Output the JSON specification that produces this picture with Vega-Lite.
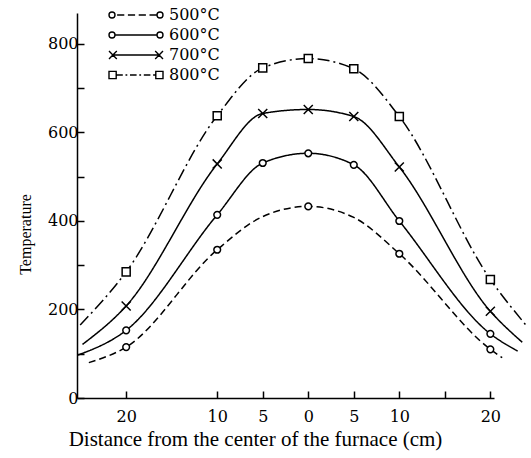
{
  "$schema": "https://vega.github.io/schema/vega-lite/v6.json",
  "autosize": {"type": "none"},
  "width": 417,
  "height": 385,
  "padding": {"left": 77, "top": 13, "right": 37, "bottom": 60},
  "background": "white",
  "config": {
    "view": {"stroke": null},
    "font": "Liberation Serif",
    "axis": {"grid": false, "domainColor": "black", "tickColor": "black", "labelColor": "black", "titleColor": "black", "domainWidth": 1.5, "tickWidth": 1.5, "labelFont": "DejaVu Serif", "titleFont": "Liberation Serif", "labelFontSize": 16, "titleFontSize": 16, "titleFontWeight": "normal"}
  },
  "data": {
    "values": [
      {"series": "500°C", "x": -24.1, "t": 80, "kind": "curve"},
      {"series": "500°C", "x": -20, "t": 115, "kind": "measured"},
      {"series": "500°C", "x": -10, "t": 335, "kind": "measured"},
      {"series": "500°C", "x": -5, "t": 410, "kind": "curve"},
      {"series": "500°C", "x": 0, "t": 433, "kind": "measured"},
      {"series": "500°C", "x": 5, "t": 408, "kind": "curve"},
      {"series": "500°C", "x": 10, "t": 326, "kind": "measured"},
      {"series": "500°C", "x": 20, "t": 110, "kind": "measured"},
      {"series": "500°C", "x": 21.3, "t": 91, "kind": "curve"},
      {"series": "600°C", "x": -25.3, "t": 97, "kind": "curve"},
      {"series": "600°C", "x": -20, "t": 153, "kind": "measured"},
      {"series": "600°C", "x": -10, "t": 414, "kind": "measured"},
      {"series": "600°C", "x": -5, "t": 531, "kind": "measured"},
      {"series": "600°C", "x": 0, "t": 553, "kind": "measured"},
      {"series": "600°C", "x": 5, "t": 527, "kind": "measured"},
      {"series": "600°C", "x": 10, "t": 400, "kind": "measured"},
      {"series": "600°C", "x": 20, "t": 145, "kind": "measured"},
      {"series": "600°C", "x": 23.0, "t": 106, "kind": "curve"},
      {"series": "700°C", "x": -24.8, "t": 121, "kind": "curve"},
      {"series": "700°C", "x": -20, "t": 208, "kind": "measured"},
      {"series": "700°C", "x": -10, "t": 529, "kind": "measured"},
      {"series": "700°C", "x": -5, "t": 643, "kind": "measured"},
      {"series": "700°C", "x": 0, "t": 652, "kind": "measured"},
      {"series": "700°C", "x": 5, "t": 636, "kind": "measured"},
      {"series": "700°C", "x": 10, "t": 522, "kind": "measured"},
      {"series": "700°C", "x": 20, "t": 196, "kind": "measured"},
      {"series": "700°C", "x": 23.5, "t": 126, "kind": "curve"},
      {"series": "800°C", "x": -25.05, "t": 165, "kind": "curve"},
      {"series": "800°C", "x": -20, "t": 285, "kind": "measured"},
      {"series": "800°C", "x": -10, "t": 638, "kind": "measured"},
      {"series": "800°C", "x": -5, "t": 746, "kind": "measured"},
      {"series": "800°C", "x": 0, "t": 767, "kind": "measured"},
      {"series": "800°C", "x": 5, "t": 744, "kind": "measured"},
      {"series": "800°C", "x": 10, "t": 636, "kind": "measured"},
      {"series": "800°C", "x": 20, "t": 268, "kind": "measured"},
      {"series": "800°C", "x": 24.1, "t": 160, "kind": "curve"}
    ]
  },
  "encoding": {
    "x": {
      "field": "x", "type": "quantitative",
      "scale": {"domain": [-25.4, 20.4], "nice": false, "zero": false},
      "axis": {
        "title": "Distance from the center of the furnace (cm)",
        "values": [-20, -10, -5, 0, 5, 10, 15, 20],
        "labelExpr": "datum.value == 15 ? '' : abs(datum.value)",
        "tickSize": -7, "labelPadding": 17, "labelFlush": false,
        "titleY": 30, "titleX": 178, "titleFontSize": 21
      }
    },
    "y": {
      "field": "t", "type": "quantitative",
      "scale": {"domain": [0, 870], "nice": false},
      "axis": {
        "title": "Temperature",
        "values": [0, 100, 200, 300, 400, 500, 600, 700, 800],
        "labelExpr": "datum.value % 200 == 0 ? datum.label : ''",
        "format": "d",
        "tickSize": -7, "labelPadding": 6,
        "titleX": -44, "titleY": 221
      }
    }
  },
  "layer": [
    {
      "mark": {"type": "line", "interpolate": "monotone", "strokeWidth": 1.5, "clip": false},
      "encoding": {
        "color": {
          "field": "series", "type": "nominal",
          "scale": {"range": ["black", "black", "black", "black"]},
          "legend": {
            "title": null,
            "orient": "none",
            "legendX": 51,
            "legendY": -6,
            "symbolSize": 36,
            "symbolStrokeWidth": 1.4,
            "labelFont": "DejaVu Serif",
            "labelFontSize": 16,
            "labelColor": "black",
            "labelOffset": 25,
            "rowPadding": 4,
            "encode": {
              "symbols": {
                "update": {
                  "shape": {"signal": "datum.value === '500°C' ? 'M-9,0a1,1 0 1,0 2,0a1,1 0 1,0 -2,0M-6.3,0L-3.9,0M-2.7,0L-0.3,0M0.9,0L3.3,0M4.5,0L6.9,0M7,0a1,1 0 1,0 2,0a1,1 0 1,0 -2,0' : datum.value === '600°C' ? 'M-9,0a1,1 0 1,0 2,0a1,1 0 1,0 -2,0M-7,0L7,0M7,0a1,1 0 1,0 2,0a1,1 0 1,0 -2,0' : datum.value === '700°C' ? 'M-9,-1.3L-6.4,1.3M-9,1.3L-6.4,-1.3M-7.7,0L7.7,0M6.4,-1.3L9,1.3M6.4,1.3L9,-1.3' : 'M-9,-1.2h2.4v2.4h-2.4zM-6.6,0L-4.4,0M-3.5,0L-2.9,0M-2,0L0.2,0M1.1,0L1.7,0M2.6,0L4.8,0M5.7,0L6.6,0M6.6,-1.2h2.4v2.4h-2.4z'"},
                  "size": {"value": 36},
                  "strokeWidth": {"value": 1.4},
                  "stroke": {"value": "black"},
                  "strokeDash": {"value": []},
                  "fill": {"value": "white"},
                  "opacity": {"value": 1}
                }
              }
            }
          }
        },
        "strokeDash": {
          "field": "series", "type": "nominal",
          "scale": {"domain": ["500°C", "600°C", "700°C", "800°C"], "range": [[7, 4], [1, 0], [1, 0], [12, 4, 2, 4]]},
          "legend": null
        }
      }
    },
    {
      "transform": [{"filter": "datum.kind == 'measured'"}],
      "mark": {"type": "point", "filled": true, "fill": "white", "stroke": "black", "strokeWidth": 1.5, "opacity": 1, "size": 45, "clip": false},
      "encoding": {
        "shape": {
          "field": "series", "type": "nominal",
          "scale": {"domain": ["500°C", "600°C", "700°C", "800°C"], "range": ["M-1,0A1,1 0 1,0 1,0A1,1 0 1,0 -1,0Z", "M-1,0A1,1 0 1,0 1,0A1,1 0 1,0 -1,0Z", "M-1.35,-1.35L1.35,1.35M-1.35,1.35L1.35,-1.35", "M-1.2,-1.2H1.2V1.2H-1.2Z"]},
          "legend": null
        }
      }
    }
  ]
}
